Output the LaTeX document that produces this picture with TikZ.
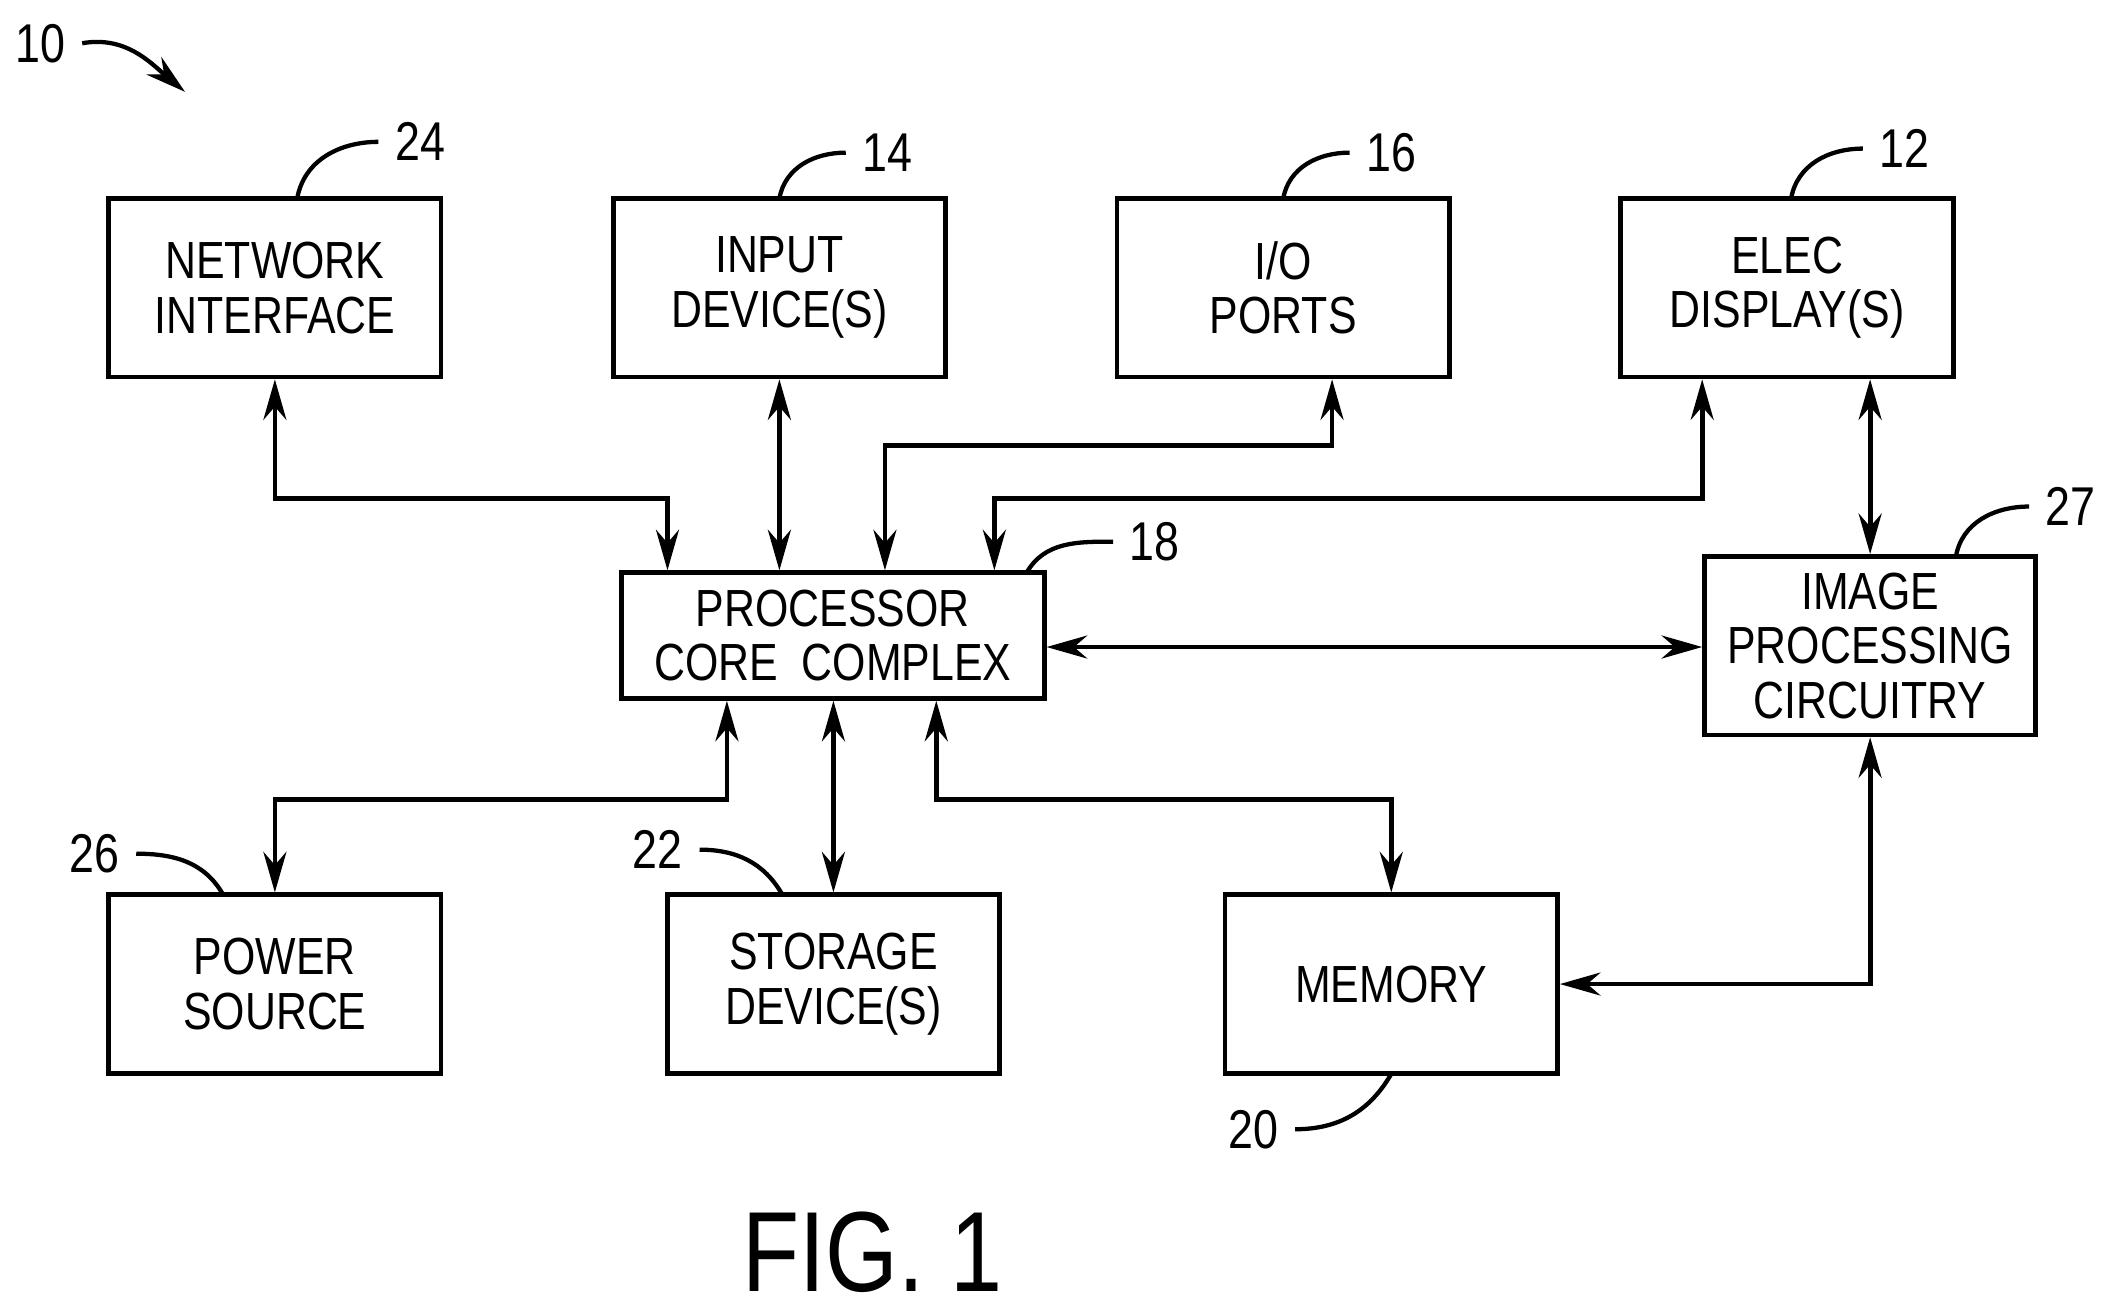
\documentclass[tikz,border=0pt]{standalone}
\usepackage{fontspec}
\setmainfont{Liberation Sans}[FakeStretch=0.82]
\usetikzlibrary{calc,arrows.meta}

\begin{document}
\begin{tikzpicture}[x=0.01cm,y=-0.01cm,
  blk/.style={draw,line width=1pt,minimum width=2.46cm,minimum height=1.32cm,align=center,font=\fontsize{11}{11.5}\selectfont,inner sep=0pt},
  link/.style={line width=1pt,{Stealth[length=3mm,width=1.7mm]}-{Stealth[length=3mm,width=1.7mm]}},
  lead/.style={line width=0.9pt},
  num/.style={font=\fontsize{11.5}{13}\selectfont}]
\useasboundingbox (0,0) rectangle (1568,969);

\node[blk] (ni) at (203.5,213) {NETWORK\\INTERFACE};
\node[blk] (inp) at (577,213) {INPUT\\DEVICE(S)};
\node[blk] (io) at (950,213) {I/O\\PORTS};
\node[blk] (disp) at (1323,213) {ELEC\\DISPLAY(S)};
\node[blk,minimum width=3.13cm,minimum height=0.93cm] (proc) at (616.5,470.5) {PROCESSOR\\CORE\ \ COMPLEX};
\node[blk,minimum width=2.45cm] (img) at (1384.5,478) {IMAGE\\PROCESSING\\CIRCUITRY};
\node[blk] (pwr) at (203.5,728.5) {POWER\\SOURCE};
\node[blk] (stor) at (617,728.5) {STORAGE\\DEVICE(S)};
\node[blk] (mem) at (1030,728.5) {MEMORY};

% connectors
\draw[link] (ni.south) -- ++(0,88) -| ($(proc.north west)+(36,0)$);
\draw[link] (inp.south) -- (inp.south |- proc.north);
\draw[link] ($(io.south west)+(161,0)$) -- ++(0,49) -| ($(proc.north west)+(197,0)$);
\draw[link] ($(disp.south west)+(62,0)$) -- ++(0,88) -| ($(proc.north west)+(278,0)$);
\draw[link] (disp.south -| img.north) -- (img.north);
\draw[link] (proc.east |- 0,479) -- (img.west |- 0,479);
\draw[link] ($(proc.south west)+(80,0)$) -- ++(0,73) -| (pwr.north);
\draw[link] (stor.north |- proc.south) -- (stor.north);
\draw[link] ($(proc.south west)+(235,0)$) -- ++(0,73) -| (mem.north);
\draw[link] (mem.east) -| (img.south);

% reference numerals
\node[num] (n24) at (311,105) {24};
\draw[lead] (220,147) to[out=80,in=180] (n24.west);
\node[num] (n14) at (657,113) {14};
\draw[lead] (577,147) to[out=80,in=180] (n14.west);
\node[num] (n16) at (1030,113) {16};
\draw[lead] (950,147) to[out=80,in=180] (n16.west);
\node[num] (n12) at (1410,110) {12};
\draw[lead] (1326,147) to[out=80,in=180] (n12.west);
\node[num] (n27) at (1533,375) {27};
\draw[lead] (1448,412) to[out=80,in=180] (n27.west);
\node[num] (n18) at (855,401) {18};
\draw[lead] (760,424) to[out=60,in=180] (n18.west);
\node[num] (n26) at (70,632) {26};
\draw[lead] (n26.east) to[out=0,in=120] (165,662);
\node[num] (n22) at (487,629) {22};
\draw[lead] (n22.east) to[out=0,in=120] (579,662);
\node[num] (n20) at (928,836) {20};
\draw[lead] (n20.east) to[out=0,in=-120] (1030,795);
\node[num] (n10) at (30,32) {10};
\draw[lead,-{Stealth[length=3mm,width=1.7mm]}] (n10.east) to[out=10,in=140] (137,68);

\node[font=\fontsize{24}{28}\selectfont] (fig) at (646,927) {FIG. 1};
\end{tikzpicture}
\end{document}
